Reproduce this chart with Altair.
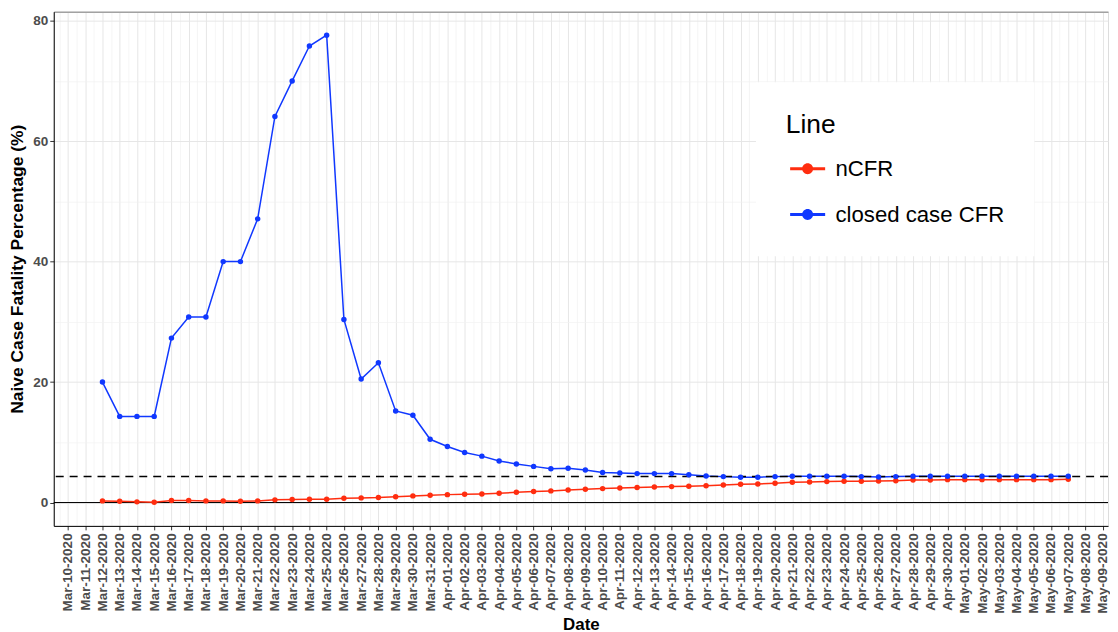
import altair as alt
import pandas as pd

# ---------------- data ----------------
dates = pd.date_range("2020-03-12", "2020-05-07", freq="D").strftime("%Y-%m-%d").tolist()

closed_cfr = [
    20.0, 14.3, 14.3, 14.3, 27.3, 30.8, 30.8, 40.0, 40.0, 47.1,
    64.1, 70.0, 75.8, 77.6, 30.4, 20.5, 23.2, 15.2, 14.5, 10.5,
    9.3, 8.3, 7.7, 6.9, 6.4, 6.0, 5.6, 5.7, 5.4, 5.0,
    4.9, 4.8, 4.8, 4.8, 4.6, 4.4, 4.3, 4.2, 4.2, 4.3,
    4.35, 4.35, 4.35, 4.35, 4.3, 4.25, 4.3, 4.35, 4.35, 4.35,
    4.35, 4.35, 4.35, 4.35, 4.35, 4.35, 4.35,
]
ncfr = [
    0.27, 0.22, 0.11, 0.06, 0.33, 0.33, 0.27, 0.27, 0.22, 0.27,
    0.44, 0.50, 0.55, 0.55, 0.72, 0.77, 0.83, 0.96, 1.10, 1.20,
    1.31, 1.38, 1.43, 1.54, 1.70, 1.82, 1.93, 2.09, 2.20, 2.31,
    2.42, 2.48, 2.59, 2.64, 2.70, 2.80, 2.92, 3.03, 3.08, 3.19,
    3.36, 3.41, 3.47, 3.52, 3.52, 3.58, 3.63, 3.74, 3.74, 3.80,
    3.80, 3.80, 3.80, 3.80, 3.80, 3.80, 3.85,
]
series_names = ["nCFR", "closed case CFR"]
series_colors = ["#ff2d0f", "#1038ff"]
dashed_level = [4.3]
zero_level = [0]
y_major = [0, 20, 40, 60, 80]
y_minor = [10, 30, 50, 70]
tick_start, tick_end = "2020-03-10", "2020-05-09"

df = pd.DataFrame({
    "date": dates * 2,
    "value": ncfr + closed_cfr,
    "Line": [series_names[0]] * len(dates) + [series_names[1]] * len(dates),
})

# ---------------- scales / ticks ----------------
DAY = 86400000
tick_days = pd.date_range(tick_start, tick_end, freq="D", tz="UTC")
major_ticks = [int(t.value // 10**6) for t in tick_days]
x_lo = major_ticks[0] - 0.824 * DAY
x_hi = major_ticks[-1] + 0.305 * DAY
minor_ticks = [m + DAY / 2 for m in [major_ticks[0] - DAY] + major_ticks]
minor_ticks = [m for m in minor_ticks if x_lo <= m <= x_hi]

xscale = alt.Scale(type="utc", domain=[x_lo, x_hi])
yscale = alt.Scale(domain=[-3.88, 81.5], nice=False, zero=False)
cscale = alt.Scale(domain=series_names, range=series_colors)
# same mapping, listed in the other order so the (legend-less) stroke channel
# is not merged with the colour legend
sscale = alt.Scale(domain=series_names[::-1], range=series_colors[::-1])

FONT = "Liberation Sans"

base = alt.Chart(df)

lines = base.mark_line(strokeWidth=1.5).encode(
    x=alt.X("date:T", scale=xscale,
            axis=alt.Axis(orient="top", values=minor_ticks, labels=False, ticks=False,
                          title=None, grid=True, gridColor="#f1f1f1", gridWidth=0.7,
                          domain=True, domainColor="#808080", domainWidth=1)),
    y=alt.Y("value:Q", scale=yscale,
            axis=alt.Axis(orient="right", values=y_minor, labels=False, ticks=False,
                          domain=False, title=None, grid=True, gridColor="#f1f1f1",
                          gridWidth=0.7)),
    stroke=alt.Stroke("Line:N", scale=sscale, legend=None),
)

legend_symbol = ("M-0.8,-0.07L0.8,-0.07L0.8,0.07L-0.8,0.07Z"
                 "M-0.25,0A0.25,0.25 0 1,1 0.25,0A0.25,0.25 0 1,1 -0.25,0Z")

points = base.mark_circle(size=30, opacity=1).encode(
    x=alt.X("date:T", scale=xscale, title="Date",
            axis=alt.Axis(orient="bottom", values=major_ticks,
                          labelExpr="utcFormat(datum.value, '%b-%d-%Y')",
                          labelAngle=270, labelFontSize=13.6, labelFontWeight="bold",
                          labelColor="#4d4d4d", labelPadding=3, labelOverlap=False,
                          labelFont=FONT, tickSize=4, tickColor="#333333",
                          domainColor="black", domainWidth=1,
                          grid=True, gridColor="#e6e6e6", gridWidth=1,
                          titleFontSize=17, titleFontWeight="bold", titleColor="black",
                          titleFont=FONT, titlePadding=3)),
    y=alt.Y("value:Q", scale=yscale, title="Naive Case Fatality Percentage (%)",
            axis=alt.Axis(orient="left", values=y_major, labelFontSize=13.6,
                          labelFontWeight="bold", labelColor="#4d4d4d", labelPadding=2,
                          labelFont=FONT, tickSize=4, tickColor="#333333",
                          domainColor="black", domainWidth=1,
                          grid=True, gridColor="#e6e6e6", gridWidth=1,
                          titleFontSize=17.5, titleFontWeight="bold", titleColor="black",
                          titleFont=FONT, titlePadding=6)),
    color=alt.Color("Line:N", scale=cscale,
                    legend=alt.Legend(title="Line", orient="none", legendX=706, legendY=71,
                                      fillColor="white", padding=30,
                                      titleFontSize=26.5, titleFontWeight="normal",
                                      titleColor="black", titleFont=FONT, titlePadding=8.5,
                                      labelFontSize=22.3, labelColor="black", labelFont=FONT,
                                      labelOffset=6, rowPadding=12, labelLimit=400,
                                      symbolType=legend_symbol, symbolSize=1936,
                                      symbolStrokeWidth=0)),
)

zero_rule = alt.Chart(pd.DataFrame({"y": zero_level})).mark_rule(
    color="black", strokeWidth=1
).encode(y=alt.Y("y:Q", scale=yscale, axis=None))

dash_rule = alt.Chart(pd.DataFrame({"y": dashed_level})).mark_rule(
    color="black", strokeWidth=1.5, strokeDash=[8, 6]
).encode(y=alt.Y("y:Q", scale=yscale, axis=None))

chart = alt.layer(zero_rule, lines, dash_rule, points).properties(
    width=1060, height=517,
    padding={"left": 0, "top": 2, "right": 0, "bottom": 0},
).configure_view(strokeWidth=0).configure(font=FONT)

chart.save("out.html", embed_options={"renderer": "svg", "actions": False})
